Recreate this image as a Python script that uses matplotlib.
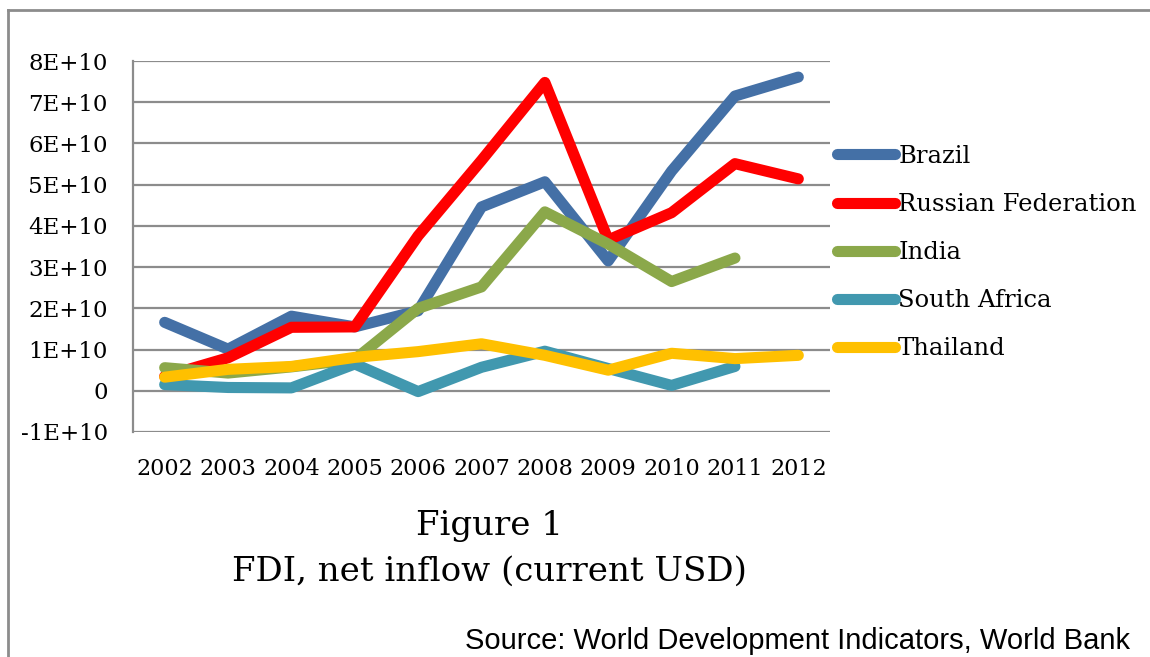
import matplotlib.pyplot as plt
from matplotlib.lines import Line2D

years = ['2002', '2003', '2004', '2005', '2006', '2007',
         '2008', '2009', '2010', '2011', '2012']

# FDI net inflows, current USD
brazil = [16.6e9, 10.1e9, 18.1e9, 15.5e9, 19.4e9, 44.6e9,
          50.7e9, 31.5e9, 53.3e9, 71.5e9, 76.1e9]
russia = [3.5e9, 8.0e9, 15.4e9, 15.5e9, 37.6e9, 55.9e9,
          74.8e9, 36.6e9, 43.2e9, 55.1e9, 51.4e9]
india = [5.6e9, 4.3e9, 5.8e9, 7.6e9, 20.0e9, 25.2e9,
         43.4e9, 35.6e9, 26.5e9, 32.2e9, None]
south_africa = [1.5e9, 0.8e9, 0.7e9, 6.5e9, -0.2e9, 5.7e9,
                9.6e9, 5.4e9, 1.3e9, 5.9e9, None]
thailand = [3.3e9, 5.2e9, 5.9e9, 8.1e9, 9.5e9, 11.4e9,
            8.6e9, 5.0e9, 9.1e9, 7.8e9, 8.6e9]

series = ['Brazil', 'Russian Federation', 'India', 'South Africa', 'Thailand']
colors = ['#4470A6', '#FF0000', '#8BA84A', '#4198AF', '#FFC000']

y_ticks = [-1e10, 0, 1e10, 2e10, 3e10, 4e10, 5e10, 6e10, 7e10, 8e10]
y_labels = ['-1E+10', '0', '1E+10', '2E+10', '3E+10', '4E+10',
            '5E+10', '6E+10', '7E+10', '8E+10']

serif = 'DejaVu Serif'
grid_c = '#8C8C8C'

fig = plt.figure(figsize=(11.5, 6.57), dpi=100)
ax = fig.add_axes([133 / 1150, 1 - 432 / 657, (830 - 133) / 1150, (432 - 61) / 657])

x = list(range(len(years)))
for name, vals, c in zip(series, [brazil, russia, india, south_africa, thailand], colors):
    xs = [i for i, v in zip(x, vals) if v is not None]
    ys = [v for v in vals if v is not None]
    ax.plot(xs, ys, color=c, lw=8, solid_capstyle='round',
            solid_joinstyle='round', label=name)

ax.set_xlim(-0.5, len(years) - 0.5)
ax.set_ylim(-1e10, 8e10)
ax.set_yticks(y_ticks)
ax.set_yticklabels(y_labels, family=serif, fontsize=16.5)
ax.set_xticks(x)
ax.set_xticklabels(years, family=serif, fontsize=16)
ax.tick_params(axis='y', length=0, pad=18)
ax.tick_params(axis='x', length=0, pad=19)
ax.yaxis.grid(True, color=grid_c, lw=1.6)
ax.set_axisbelow(True)
for s in ['top', 'right', 'bottom']:
    ax.spines[s].set_visible(False)
ax.spines['left'].set_color(grid_c)
ax.spines['left'].set_linewidth(1.6)

handles = [Line2D([], [], color=c, lw=8, solid_capstyle='round') for c in colors]
leg = fig.legend(handles, series, loc='upper left',
                 bbox_to_anchor=(837 / 1150, 1 - 145 / 657),
                 frameon=False, prop={'family': serif, 'size': 17.5},
                 handlelength=2.4, handletextpad=0.12, labelspacing=1.03,
                 borderaxespad=0, borderpad=0)

fig.text(490 / 1150, 1 - 526 / 657, 'Figure 1', ha='center', va='center',
         family=serif, fontsize=24.5)
fig.text(490 / 1150, 1 - 572 / 657, 'FDI, net inflow (current USD)',
         ha='center', va='center', family=serif, fontsize=24.5)
fig.text(1130 / 1150, 1 - 641 / 657, 'Source: World Development Indicators, World Bank',
         ha='right', va='center', family='Liberation Sans', fontsize=21)

# outer frame, cut at the right and bottom edges
fig.add_artist(Line2D([8 / 1150, 8 / 1150], [0, 1 - 10 / 657],
                      transform=fig.transFigure, color='#8C8C8C', lw=2))
fig.add_artist(Line2D([8 / 1150, 1], [1 - 10 / 657, 1 - 10 / 657],
                      transform=fig.transFigure, color='#8C8C8C', lw=2))

fig.savefig('out.png', dpi=100)
